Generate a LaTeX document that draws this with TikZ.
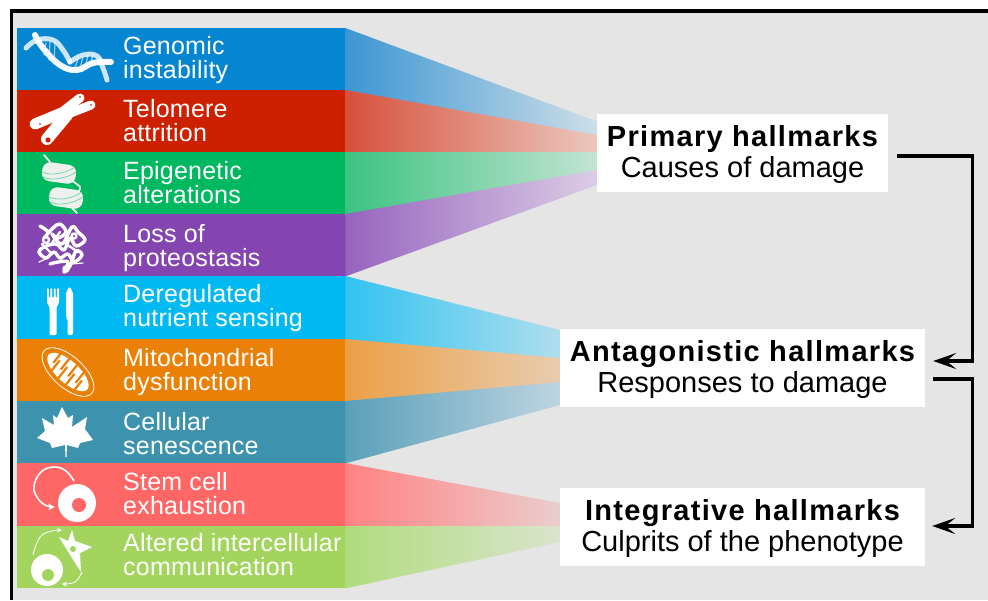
\documentclass[tikz,border=0pt]{standalone}
\usepackage{fontspec}
\setmainfont{Liberation Sans}
\newfontfamily\hallbold{Liberation Sans}[LetterSpace=4.5]
\newfontfamily\bandfont{Liberation Sans}[LetterSpace=0.9]
\usetikzlibrary{arrows.meta}
\definecolor{pagegrey}{RGB}{229,229,229}
\definecolor{c1}{RGB}{6,134,208}
\definecolor{c2}{RGB}{204,32,0}
\definecolor{c3}{RGB}{0,184,95}
\definecolor{c4}{RGB}{132,69,176}
\definecolor{c5}{RGB}{0,185,242}
\definecolor{c6}{RGB}{234,128,5}
\definecolor{c7}{RGB}{61,146,173}
\definecolor{c8}{RGB}{255,102,102}
\definecolor{c9}{RGB}{163,213,94}
\definecolor{l1}{RGB}{60,150,210}\definecolor{r1}{RGB}{205,222,232}
\definecolor{l2}{RGB}{215,80,60}\definecolor{r2}{RGB}{235,200,190}
\definecolor{l3}{RGB}{60,195,130}\definecolor{r3}{RGB}{195,228,210}
\definecolor{l4}{RGB}{150,100,190}\definecolor{r4}{RGB}{220,205,230}
\definecolor{l5}{RGB}{50,195,240}\definecolor{r5}{RGB}{175,222,238}
\definecolor{l6}{RGB}{235,160,70}\definecolor{r6}{RGB}{232,205,175}
\definecolor{l7}{RGB}{90,160,185}\definecolor{r7}{RGB}{190,212,225}
\definecolor{l8}{RGB}{255,130,130}\definecolor{r8}{RGB}{235,205,205}
\definecolor{l9}{RGB}{175,220,125}\definecolor{r9}{RGB}{218,228,205}
\definecolor{nuc}{RGB}{238,240,238}
\newcommand\barstrut{\rule[-6pt]{0pt}{24.7pt}}
\newcommand\hallstrut{\rule[-4.5pt]{0pt}{28pt}}
\tikzset{
  band/.style={rectangle,draw=none,minimum width=329pt,inner sep=0pt,anchor=north west},
  bandlabel/.style={anchor=west,inner sep=0pt,align=left,text=white,font=\bandfont\fontsize{25}{24.7}\selectfont},
  hallbox/.style={rectangle,fill=white,inner sep=0pt,minimum height=78pt,align=center,text=black,font=\fontsize{29}{28}\selectfont},
  conn/.style={draw=black,line width=3.4pt,line join=miter},
  connarrow/.style={conn,-{Stealth[length=23pt,width=16pt,inset=10pt]}},
  ico/.style={draw=white,line cap=round,line join=round},
  blackbar/.style={fill=black,draw=none},
  fanL/.style={xshift=-1pt},
  fanB/.style={yshift=-0.6pt}
}
\begin{document}
\begin{tikzpicture}[x=1pt,y=-1pt]
\useasboundingbox (0,0) rectangle (988,600);
\fill[white] (0,0) rectangle (988,600);
\fill[pagegrey] (13,12) rectangle (988,600);
\fill[blackbar] (10,9) rectangle (988,12.5);
\fill[blackbar] (10,9) rectangle (13,600);

% bands
\foreach \n/\c/\t/\h in {b1/c1/28/62,b2/c2/90/62,b3/c3/152/62,b4/c4/214/62,b5/c5/276/63,b6/c6/339/62,b7/c7/401/62,b8/c8/463/63,b9/c9/526/62}
  \node[band,fill=\c,minimum height=\h pt] (\n) at (17,\t) {};

% fans
\coordinate (p0) at (597,121.5);\coordinate (p1) at (597,135);\coordinate (p2) at (597,152);\coordinate (p3) at (597,170);\coordinate (p4) at (597,185);
\coordinate (a0) at (560,330);\coordinate (a1) at (560,358);\coordinate (a2) at (560,382);\coordinate (a3) at (560,405);
\coordinate (i0) at (560,503);\coordinate (i1) at (560,526);\coordinate (i2) at (560,542);
\shade[left color=l1,right color=r1] ([fanL]b1.north east) -- (p0) -- ([fanB]p1) -- ([fanL,fanB]b1.south east) -- cycle;
\shade[left color=l2,right color=r2] ([fanL]b2.north east) -- (p1) -- ([fanB]p2) -- ([fanL,fanB]b2.south east) -- cycle;
\shade[left color=l3,right color=r3] ([fanL]b3.north east) -- (p2) -- ([fanB]p3) -- ([fanL,fanB]b3.south east) -- cycle;
\shade[left color=l4,right color=r4] ([fanL]b4.north east) -- (p3) -- (p4) -- ([fanL]b4.south east) -- cycle;
\shade[left color=l5,right color=r5] ([fanL]b5.north east) -- (a0) -- ([fanB]a1) -- ([fanL,fanB]b5.south east) -- cycle;
\shade[left color=l6,right color=r6] ([fanL]b6.north east) -- (a1) -- ([fanB]a2) -- ([fanL,fanB]b6.south east) -- cycle;
\shade[left color=l7,right color=r7] ([fanL]b7.north east) -- (a2) -- (a3) -- ([fanL]b7.south east) -- cycle;
\shade[left color=l8,right color=r8] ([fanL]b8.north east) -- (i0) -- ([fanB]i1) -- ([fanL,fanB]b8.south east) -- cycle;
\shade[left color=l9,right color=r9] ([fanL]b9.north east) -- (i1) -- (i2) -- ([fanL]b9.south east) -- cycle;

% band labels
\node[bandlabel] (t1) at (123,60) {\barstrut Genomic\\\barstrut instability};
\node[bandlabel] (t2) at (123,123) {\barstrut Telomere\\\barstrut attrition};
\node[bandlabel] (t3) at (123,185) {\barstrut Epigenetic\\\barstrut alterations};
\node[bandlabel] (t4) at (123,248) {\barstrut Loss of\\\barstrut proteostasis};
\node[bandlabel] (t5) at (123,308) {\barstrut Deregulated\\\barstrut nutrient sensing};
\node[bandlabel] (t6) at (123,372) {\barstrut Mitochondrial\\\barstrut dysfunction};
\node[bandlabel] (t7) at (123,436) {\barstrut Cellular\\\barstrut senescence};
\node[bandlabel] (t8) at (123,496) {\barstrut Stem cell\\\barstrut exhaustion};
\node[bandlabel] (t9) at (123,557) {\barstrut Altered intercellular\\\barstrut communication};

% hallmark boxes
\node[hallbox,minimum width=291pt] (prim) at (742.5,153) {\hallstrut{\hallbold\bfseries Primary hallmarks}\\\hallstrut Causes of damage};
\node[hallbox,minimum width=365pt] (ant) at (742.5,368) {\hallstrut{\hallbold\bfseries Antagonistic hallmarks}\\\hallstrut Responses to damage};
\node[hallbox,minimum width=365pt] (integ) at (742.5,527) {\hallstrut{\hallbold\bfseries Integrative hallmarks}\\\hallstrut Culprits of the phenotype};

% connectors
\draw[connarrow] ([xshift=9pt,yshift=-3pt]prim.east) -- ++(75,0) |- ([xshift=8pt,yshift=7pt]ant.east);
\draw[connarrow] ([xshift=8pt,yshift=-11pt]ant.east) -- ++(39,0) |- ([xshift=7pt,yshift=1pt]integ.east);

% DNA icon
\draw[ico,line width=1.2pt,opacity=.6] (46,43)--(44,55) (50,42)--(49,60) (55,42)--(54,64)
  (78,59)--(75,68) (83,56)--(80,69) (88,55)--(85,68) (93,55)--(90,65);
\draw[ico,line width=5pt,opacity=.8] plot[smooth,tension=.7] coordinates {(26,48) (37,40) (53,40) (63,50) (70,62)};
\draw[ico,line width=5pt,opacity=.8] plot[smooth,tension=.7] coordinates {(70,62) (83,55) (97,56) (103,68) (107,80)};
\draw[ico,line width=6pt,opacity=.95] plot[smooth,tension=.7] coordinates {(35,35) (43,48) (60,65) (77,70) (93,63) (111,62)};

% chromosome icon
\draw[ico,line width=11pt] (35,124) -- (64,112);
\draw[ico,line width=12pt] (47,139) -- (67,115);
\draw[ico,line width=9pt] (62,112) -- (80,98);
\draw[ico,line width=9pt] (68,114) -- (91,105);
\fill[c2] (48,140) circle (2.6);
\fill[c2!70!black] (40,124) circle (.9) (80,97) circle (.9) (91,105) circle (.9);

% nucleosome icon
\draw[draw=nuc,line width=1.8pt,line cap=round] plot[smooth] coordinates {(44,155) (50,162)};
\draw[draw=nuc,line width=1.8pt,line cap=round] plot[smooth] coordinates {(68,178) (80,187) (77,193)};
\draw[draw=nuc,line width=1.8pt,line cap=round] plot[smooth] coordinates {(72,208) (77,213)};
\fill[nuc,rounded corners=8pt,rotate around={-8:(59,173)}] (42,163.5) rectangle (76,182.5);
\fill[nuc,rounded corners=8pt,rotate around={-8:(66,198)}] (49,188.5) rectangle (83,207.5);
\draw[c3!50!nuc,line width=.8pt] (42,172) .. controls (50,176) and (65,174) .. (75,167);
\draw[c3!50!nuc,line width=.8pt] (43,177) .. controls (51,181) and (66,179) .. (76,172);
\draw[c3!50!nuc,line width=.8pt] (49,197) .. controls (57,201) and (72,199) .. (82,192);
\draw[c3!50!nuc,line width=.8pt] (50,202) .. controls (58,206) and (73,204) .. (83,197);

% protein icon
\draw[ico,line width=3.4pt] plot[smooth,tension=.6] coordinates {(40,226) (48,232) (44,238) (53,228) (60,224) (66,232) (58,238) (52,234) (62,244) (72,227) (78,232) (85,240) (76,246) (70,238) (64,250) (56,244) (44,247) (39,252) (46,258) (54,252) (60,258) (68,254) (74,262) (82,255) (76,251) (70,266) (64,272) (68,262) (58,262) (50,264)};
\draw[ico,line width=2.4pt] (46,240) circle (3) (74,236) circle (2.5) (66,269) circle (2.5) (52,243) -- (60,232) (42,244) -- (52,254) (66,244) -- (78,252);
\draw[ico,line width=1.2pt] (48,258) -- (39,262) (72,264) -- (83,263);

% fork and knife icon
\fill[white,rounded corners=1.2pt] (47,288) -- (48.8,288) -- (48.8,298) -- (50.4,298) -- (50.4,288) -- (52.2,288) -- (52.2,298) -- (53.8,298) -- (53.8,288) -- (55.6,288) -- (55.6,298) -- (57.2,298) -- (57.2,288) -- (59,288) -- (59,303) -- (56.5,307) -- (56.5,335) -- (49.5,335) -- (49.5,307) -- (47,303) -- cycle;
\fill[white,rounded corners=2pt] (66,318) -- (66,292) -- (69.5,286.5) -- (73,292) -- (73,335) -- (67.5,335) -- (67.5,318) -- cycle;

% mitochondrion icon
\begin{scope}[shift={(68,372)},rotate=-42]
  \draw[white,line width=.8pt] (0,0) ellipse [x radius=32,y radius=15.5];
  \fill[white] (0,0) ellipse [x radius=26,y radius=11];
  \foreach \sx in {-18,-8,2,12}
    \draw[c6,line width=2.2pt] (\sx,-12) -- (\sx+1,3);
  \foreach \sx in {-13,-3,7,17}
    \draw[c6,line width=2.2pt] (\sx,12) -- (\sx-1,-3);
\end{scope}

% maple leaf icon
\fill[white] (62,407) -- (68,418) -- (73,415) -- (72,427) -- (87,417) -- (85,429) -- (93,440) -- (80,443) -- (78,448) -- (67,445) -- (66.5,457) -- (65.5,457) -- (65,445) -- (52,448) -- (50,443) -- (37,438) -- (45,431) -- (42,418) -- (54,425) -- (53,415) -- (57,418) -- cycle;

% stem cell icon
\draw[white,line width=1.6pt,-{Stealth[length=7pt,width=7pt]}] plot[smooth,tension=.7] coordinates {(74,481) (66,471) (54,467) (41,472) (34,486) (37,497) (45,505) (55,507)};
\fill[white] (77,503) circle (19);
\fill[c8] (79,505) circle (7);

% intercellular communication icon
\fill[white] (47,570) circle (16);
\fill[c9] (48,575) circle (6);
\fill[white] (72,530) -- (75,541) -- (92,547) -- (80,553) -- (81,572) -- (72,558) -- (59,537) -- (68,541) -- cycle;
\fill[c9] (73,549) circle (3);
\draw[white,line width=.8pt,-{Stealth[length=5pt,width=5pt]}] plot[smooth,tension=.7] coordinates {(33,555) (42,535) (62,530)};
\draw[white,line width=.8pt,-{Stealth[length=5pt,width=5pt]}] plot[smooth,tension=.7] coordinates {(82,572) (75,582) (62,584)};
\end{tikzpicture}
\end{document}
